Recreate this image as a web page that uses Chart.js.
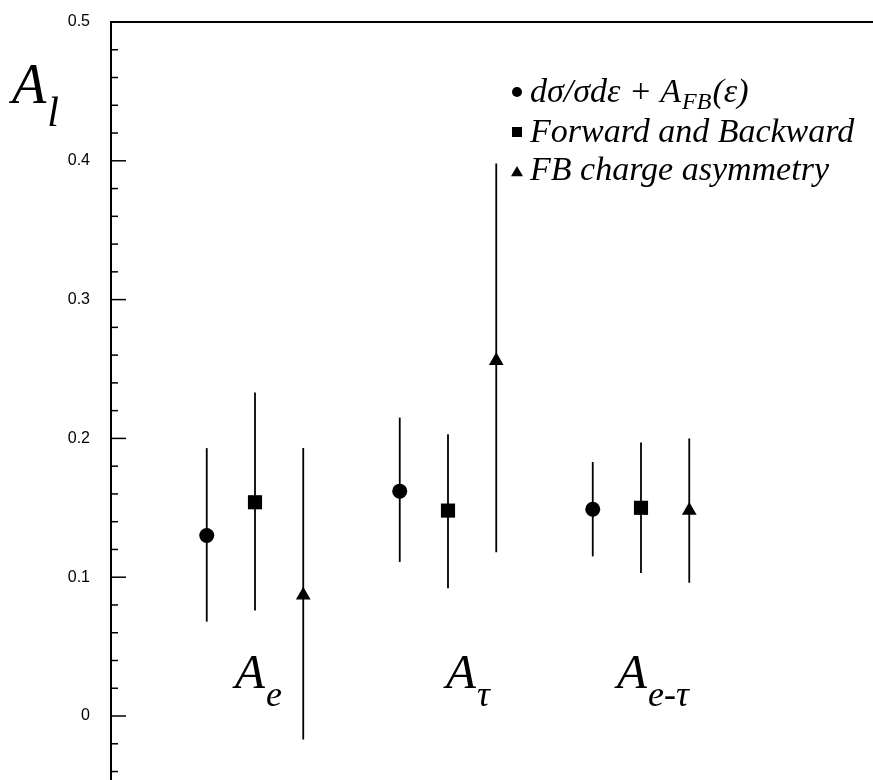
<!DOCTYPE html>
<html>
<head>
<meta charset="utf-8">
<script src="https://cdn.jsdelivr.net/npm/chart.js@4.4.0/dist/chart.umd.min.js"></script>
<style>
html, body { margin: 0; padding: 0; background: #fff; overflow: hidden; }
canvas { display: block; }
</style>
</head>
<body>
<canvas id="chart-al" width="873" height="780"></canvas>
<script>
// groups along x, and the three measuring methods
const groupPos = [1, 2, 3];
const groupMain = ['A', 'A', 'A'];
const groupSub = ['e', 'τ', 'e-τ'];
const methodOffset = [-0.25, 0, 0.25];
const methodStyle = ['circle', 'rect', 'triangle'];

// dσ/σdε + A_FB(ε)
const xsecVal = [0.130, 0.162, 0.149];
const xsecLo = [0.068, 0.111, 0.115];
const xsecHi = [0.193, 0.215, 0.183];

// Forward and Backward
const fbVal = [0.154, 0.148, 0.150];
const fbLo = [0.076, 0.092, 0.103];
const fbHi = [0.233, 0.203, 0.197];

// FB charge asymmetry
const chgVal = [0.087, 0.256, 0.148];
const chgLo = [-0.017, 0.118, 0.096];
const chgHi = [0.193, 0.398, 0.200];

const yMin = -0.0461;
const yMax = 0.5;

const serif = '"Liberation Serif", "Times New Roman", serif';

function makePoints(m, val, lo, hi) {
	const pts = [];
	for (let i = 0; i < groupPos.length; i++) {
		pts.push({x: groupPos[i] + methodOffset[m], y: val[i], lo: lo[i], hi: hi[i]});
	}
	return pts;
}

function drawSub(ctx, main, sub, x, y, mainSize, subSize, drop) {
	ctx.font = 'italic ' + mainSize + 'px ' + serif;
	ctx.fillText(main, x, y);
	const w = ctx.measureText(main).width;
	ctx.font = 'italic ' + subSize + 'px ' + serif;
	ctx.fillText(sub, x + w + 1, y + drop);
	return x + w + 1 + ctx.measureText(sub).width;
}

function marker(ctx, style, x, y, r) {
	ctx.beginPath();
	if (style === 'circle') {
		ctx.arc(x, y, r, 0, Math.PI * 2);
	} else if (style === 'rect') {
		ctx.rect(x - r, y - r, 2 * r, 2 * r);
	} else {
		ctx.moveTo(x, y - r);
		ctx.lineTo(x + r, y + r * 0.7);
		ctx.lineTo(x - r, y + r * 0.7);
		ctx.closePath();
	}
	ctx.fill();
}

const errorBars = {
	id: 'errorBars',
	beforeDatasetsDraw(chart) {
		const ctx = chart.ctx;
		const xs = chart.scales.x;
		const ys = chart.scales.y;
		ctx.save();
		ctx.strokeStyle = '#000';
		ctx.lineWidth = 1.8;
		chart.data.datasets.forEach(ds => {
			ds.data.forEach(p => {
				const px = xs.getPixelForValue(p.x);
				ctx.beginPath();
				ctx.moveTo(px, ys.getPixelForValue(p.hi));
				ctx.lineTo(px, ys.getPixelForValue(p.lo));
				ctx.stroke();
			});
		});
		ctx.restore();
	}
};

const decorations = {
	id: 'decorations',
	afterDraw(chart) {
		const ctx = chart.ctx;
		const area = chart.chartArea;
		const ys = chart.scales.y;
		const xs = chart.scales.x;
		ctx.save();
		ctx.strokeStyle = '#000';
		ctx.fillStyle = '#000';

		// frame top
		ctx.lineWidth = 2;
		ctx.beginPath();
		ctx.moveTo(area.left - 1, area.top);
		ctx.lineTo(chart.width, area.top);
		ctx.stroke();

		// inward ticks
		ctx.lineWidth = 1.5;
		ys.ticks.forEach(t => {
			const major = Math.abs(t.value * 10 - Math.round(t.value * 10)) < 1e-6;
			const py = ys.getPixelForValue(t.value);
			ctx.beginPath();
			ctx.moveTo(area.left, py);
			ctx.lineTo(area.left + (major ? 15 : 7), py);
			ctx.stroke();
		});

		// y title
		ctx.textBaseline = 'alphabetic';
		ctx.textAlign = 'left';
		drawSub(ctx, 'A', 'l', 12, 103, 56, 42, 23);

		// group labels
		const labelShift = [-20, -2, -24];
		for (let i = 0; i < groupPos.length; i++) {
			const px = xs.getPixelForValue(groupPos[i]) + labelShift[i];
			drawSub(ctx, groupMain[i], groupSub[i], px, 688, 49, 36, 18);
		}

		// legend
		const lx = 517;
		const rows = [92, 132, 172];
		const sizes = [5, 5, 6];
		for (let m = 0; m < 3; m++) {
			marker(ctx, methodStyle[m], lx, rows[m], sizes[m]);
		}
		const tx = 530;
		ctx.font = 'italic 34px ' + serif;
		let x = tx;
		ctx.fillText('dσ/σdε + A', x, rows[0] + 10);
		x += ctx.measureText('dσ/σdε + A').width + 1;
		ctx.font = 'italic 24px ' + serif;
		ctx.fillText('FB', x, rows[0] + 17);
		x += ctx.measureText('FB').width + 1;
		ctx.font = 'italic 34px ' + serif;
		ctx.fillText('(ε)', x, rows[0] + 10);
		ctx.fillText('Forward and Backward', tx, rows[1] + 10);
		ctx.fillText('FB charge asymmetry', tx, rows[2] + 8);
		ctx.restore();
	}
};

new Chart(document.getElementById('chart-al'), {
	type: 'scatter',
	data: {
		datasets: [
			{
				label: 'dσ/σdε + A_FB(ε)',
				data: makePoints(0, xsecVal, xsecLo, xsecHi),
				pointStyle: 'circle',
				pointRadius: 7.5,
			},
			{
				label: 'Forward and Backward',
				data: makePoints(1, fbVal, fbLo, fbHi),
				pointStyle: 'rect',
				pointRadius: 10,
			},
			{
				label: 'FB charge asymmetry',
				data: makePoints(2, chgVal, chgLo, chgHi),
				pointStyle: 'triangle',
				pointRadius: 8.5,
			},
		].map(d => Object.assign(d, {
			backgroundColor: '#000',
			borderColor: '#000',
			borderWidth: 0,
			pointHoverRadius: d.pointRadius,
			clip: false,
		})),
	},
	options: {
		responsive: false,
		animation: false,
		devicePixelRatio: 1,
		layout: {autoPadding: false, padding: {top: 22, right: 0, bottom: 0, left: 0}},
		plugins: {
			legend: {display: false},
			tooltip: {enabled: false},
		},
		scales: {
			x: {
				type: 'linear',
				display: false,
				min: 0.2539,
				max: 4.2021,
			},
			y: {
				min: yMin,
				max: yMax,
				afterFit(scale) {
					// fixed axis width, no extra room above/below for labels
					scale.width = 111;
					scale.paddingTop = 0;
					scale.paddingBottom = 0;
				},
				grid: {display: false, drawTicks: false},
				border: {display: true, color: '#000', width: 2},
				ticks: {
					stepSize: 0.02,
					maxTicksLimit: 30,
					autoSkip: false,
					includeBounds: false,
					padding: 21,
					color: '#000',
					font: {family: '"Liberation Sans", Arial, sans-serif', size: 16},
					callback: (v) => {
						if (Math.abs(v * 10 - Math.round(v * 10)) > 1e-6) {
							return '';
						}
						return String(Math.round(v * 10) / 10);
					},
				},
			},
		},
	},
	plugins: [errorBars, decorations],
});
</script>
</body>
</html>
